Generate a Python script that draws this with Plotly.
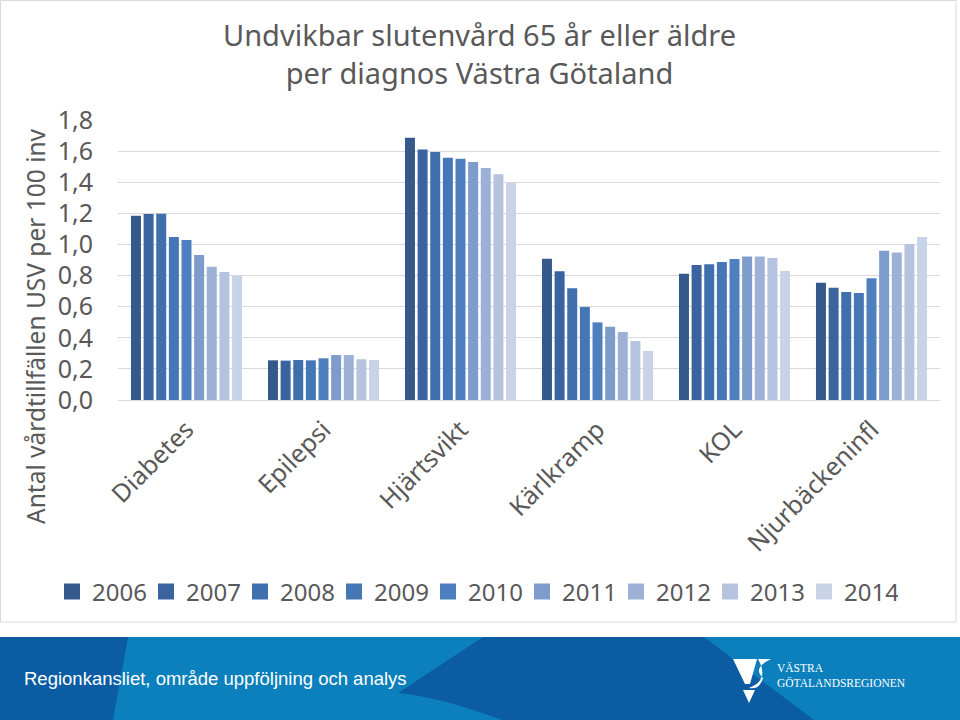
import plotly.graph_objects as go

categories = ["Diabetes", "Epilepsi", "Hjärtsvikt", "Kärlkramp", "KOL", "Njurbäckeninfl"]
years = ["2006", "2007", "2008", "2009", "2010", "2011", "2012", "2013", "2014"]

# values per category, one entry per year 2006..2014
diabetes = [1.184, 1.195, 1.197, 1.048, 1.028, 0.932, 0.857, 0.823, 0.801]
epilepsi = [0.255, 0.253, 0.257, 0.255, 0.268, 0.289, 0.289, 0.262, 0.257]
hjartsvikt = [1.686, 1.611, 1.594, 1.557, 1.551, 1.530, 1.491, 1.452, 1.397]
karlkramp = [0.908, 0.827, 0.718, 0.598, 0.499, 0.471, 0.437, 0.379, 0.315]
kol = [0.812, 0.868, 0.872, 0.887, 0.906, 0.923, 0.923, 0.913, 0.829]
njur = [0.754, 0.722, 0.694, 0.688, 0.782, 0.960, 0.949, 1.001, 1.048]
per_category = [diabetes, epilepsi, hjartsvikt, karlkramp, kol, njur]

tick_vals = [0, 0.2, 0.4, 0.6, 0.8, 1.0, 1.2, 1.4, 1.6, 1.8]
tick_text = ["0,0", "0,2", "0,4", "0,6", "0,8", "1,0", "1,2", "1,4", "1,6", "1,8"]

colors = ["#34598a", "#3a64a0", "#406fad", "#4576b6", "#4e80c0",
          "#7d9bcb", "#9cb1d5", "#b5c3df", "#c9d3e7"]

W, H = 960, 720
L, R, T, B = 118, 20, 120, 320
PW, PH = W - L - R, H - T - B


def px(x):
    return (x - L) / PW


def py(y):
    return (H - B - y) / PH


fig = go.Figure()
for i, yr in enumerate(years):
    fig.add_trace(go.Bar(
        x=categories,
        y=[vals[i] for vals in per_category],
        name=yr,
        marker=dict(color=colors[i], line=dict(width=0)),
        showlegend=False,
    ))
    fig.add_trace(go.Scatter(
        x=[None], y=[None], mode="markers", name=yr,
        marker=dict(symbol="square", size=16, color=colors[i]),
    ))

grey = "#595959"
shapes = []
# chart frame
shapes.append(dict(type="rect", xref="paper", yref="paper",
                   x0=px(0.5), x1=px(956), y0=py(0.5), y1=py(622),
                   line=dict(color="#d9d9d9", width=1), fillcolor="rgba(0,0,0,0)", layer="below"))
# footer background
shapes.append(dict(type="rect", xref="paper", yref="paper",
                   x0=px(0), x1=px(960), y0=py(637), y1=py(720),
                   line=dict(width=0), fillcolor="#0b80bd", layer="below"))
# dark left strip
shapes.append(dict(type="path", xref="paper", yref="paper",
                   path=f"M {px(0)},{py(637)} L {px(128)},{py(637)} L {px(113)},{py(720)} L {px(0)},{py(720)} Z",
                   line=dict(width=0), fillcolor="#0b5ca3", layer="below"))
# dark middle shape
shapes.append(dict(type="path", xref="paper", yref="paper",
                   path=(f"M {px(483)},{py(637)} L {px(704)},{py(637)} L {px(814)},{py(720)} "
                         f"L {px(502)},{py(720)} Q {px(440)},{py(697)} {px(398)},{py(693)} Z"),
                   line=dict(width=0), fillcolor="#0b5ca3", layer="below"))
# logo mark (simplified)
shapes.append(dict(type="path", xref="paper", yref="paper",
                   path=(f"M {px(733)},{py(659)} L {px(757)},{py(659)} L {px(750)},{py(684)} "
                         f"L {px(745)},{py(684)} Z"),
                   line=dict(width=0), fillcolor="white", layer="above"))
shapes.append(dict(type="path", xref="paper", yref="paper",
                   path=(f"M {px(758)},{py(659)} L {px(771)},{py(659)} Q {px(752)},{py(668)} {px(763)},{py(678)} "
                         f"Q {px(760)},{py(690)} {px(749)},{py(688)} Q {px(770)},{py(680)} {px(758)},{py(659)} Z"),
                   line=dict(width=0), fillcolor="white", layer="above"))
shapes.append(dict(type="path", xref="paper", yref="paper",
                   path=(f"M {px(743)},{py(690)} L {px(755)},{py(690)} L {px(749)},{py(703)} Z"),
                   line=dict(width=0), fillcolor="white", layer="above"))

annotations = [
    dict(text="Undvikbar slutenvård 65 år eller äldre<br>per diagnos Västra Götaland",
         xref="paper", yref="paper", x=px(479), y=py(54), xanchor="center", yanchor="middle",
         showarrow=False, font=dict(family="Noto Sans", size=29, color=grey)),
    dict(text="Antal vårdtillfällen USV per 100 inv",
         xref="paper", yref="paper", x=px(35), y=py(326), xanchor="center", yanchor="middle",
         textangle=-90, showarrow=False, font=dict(family="Noto Sans", size=24.5, color=grey)),
    dict(text="Regionkansliet, område uppföljning och analys",
         xref="paper", yref="paper", x=px(22), y=py(678), xanchor="left", yanchor="middle",
         showarrow=False, font=dict(family="Liberation Sans", size=18.5, color="white")),
    dict(text="VÄSTRA<br>GÖTALANDSREGIONEN",
         xref="paper", yref="paper", x=px(775), y=py(675), xanchor="left", yanchor="middle",
         align="left", showarrow=False,
         font=dict(family="Liberation Serif", size=11.5, color="white")),
]

fig.update_layout(
    width=W, height=H,
    margin=dict(l=L, r=R, t=T, b=B, autoexpand=False),
    paper_bgcolor="white", plot_bgcolor="white",
    barmode="group", bargap=0.17, bargroupgap=0.21,
    font=dict(family="Noto Sans", color=grey),
    xaxis=dict(type="category", tickangle=-45, tickfont=dict(size=25, color=grey),
               showgrid=False, showline=True, linecolor="#d9d9d9", ticks="", ticklen=0,
               ticklabelstandoff=4),
    yaxis=dict(range=[0, 1.8], tickvals=tick_vals, ticktext=tick_text,
               tickfont=dict(size=25, color=grey), showgrid=True, gridcolor="#d9d9d9",
               gridwidth=1, zeroline=False, showline=False, ticklabelstandoff=24),
    legend=dict(orientation="h", x=px(52), y=py(592), xanchor="left", yanchor="middle",
                font=dict(size=24, color=grey), entrywidth=49, entrywidthmode="pixels",
                itemclick=False, traceorder="normal", bgcolor="rgba(0,0,0,0)"),
    shapes=shapes,
    annotations=annotations,
)

fig.write_html("out.html")
